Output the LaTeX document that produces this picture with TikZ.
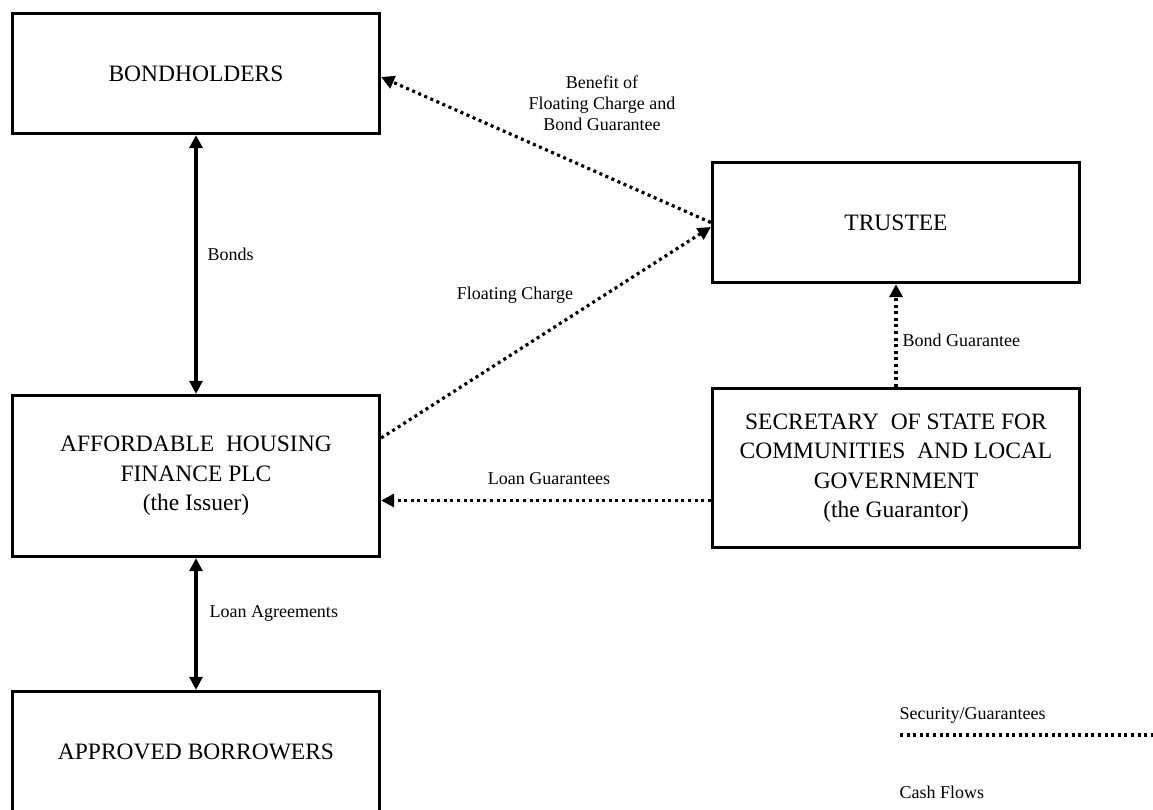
\documentclass[tikz,border=0pt]{standalone}
\usepackage{fontspec}
\setmainfont{Liberation Serif}
\usetikzlibrary{arrows.meta}
\begin{document}
\begin{tikzpicture}[x=1pt,y=-1pt,
  party/.style={draw,line width=3.3pt,minimum width=367pt,align=center,
    font=\fontsize{23.5}{29.5}\selectfont},
  flowlabel/.style={font=\fontsize{18}{21}\selectfont,align=center},
  cash/.style={line width=3.2pt,{Triangle[length=13pt,width=13pt]}-{Triangle[length=13pt,width=13pt]}},
  secure/.style={line width=3.2pt,dash pattern=on 3pt off 3.6pt,-{Triangle[length=13pt,width=13pt]}}]
\useasboundingbox (0,0) rectangle (1153,809);

\node[party,minimum height=120pt] (b) at (196,73.5) {BONDHOLDERS};
\node[party,minimum height=161pt] (i) at (196,476) {AFFORDABLE~ HOUSING\\FINANCE PLC\\(the Issuer)};
\node[party,minimum height=121pt] (ab) at (196,752) {APPROVED BORROWERS};
\node[party,minimum height=120pt] (t) at (896,222.5) {TRUSTEE};
\node[party,minimum height=159pt] (s) at (896,468) {SECRETARY~ OF STATE FOR\\COMMUNITIES~ AND LOCAL\\GOVERNMENT\\(the Guarantor)};

\draw[cash] (b.south) -- (i.north);
\draw[cash] (i.south) -- (ab.north);
\draw[secure] (t.west) -- ([yshift=-3.5pt]b.east);
\draw[secure] ([yshift=38pt]i.east) -- ([yshift=-4.5pt]t.west);
\draw[secure] ([yshift=-32.5pt]s.west) -- ([yshift=-24.5pt]i.east);
\draw[secure] (s.north) -- (t.south);

\node[flowlabel,anchor=west] (l1) at (204,254) {Bonds};
\node[flowlabel,anchor=west] (l2) at (206,613) {Loan Agreements};
\node[flowlabel] (l3) at (602,103) {Benefit of\\Floating Charge and\\Bond Guarantee};
\node[flowlabel] (l4) at (515,295) {Floating Charge};
\node[flowlabel] (l5) at (549,479) {Loan Guarantees};
\node[flowlabel,anchor=west] (l6) at (899,340) {Bond Guarantee};

% key
\node[flowlabel,anchor=west] (k1) at (896,715) {Security/Guarantees};
\node[flowlabel,anchor=west] (k2) at (896,792) {Cash Flows};
\coordinate (k1a) at (900,735);
\coordinate (k1b) at (1160,735);
\draw[line width=3.2pt,dash pattern=on 3pt off 3.6pt] (k1a) -- (k1b);
\end{tikzpicture}
\end{document}
